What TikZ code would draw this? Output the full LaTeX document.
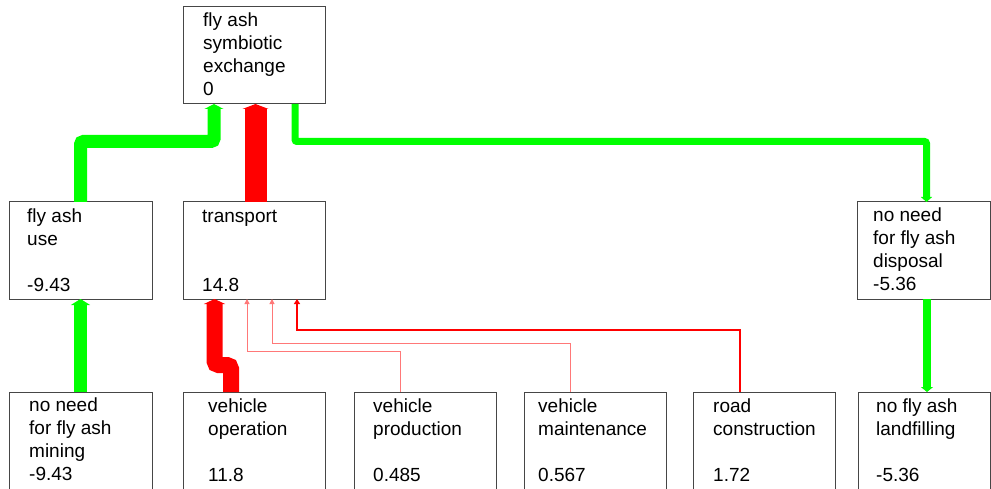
\documentclass[tikz,border=0pt]{standalone}
\usepackage{fontspec}
\setmainfont{Liberation Sans}
\usetikzlibrary{arrows.meta,calc}
\definecolor{fgreen}{RGB}{0,255,0}
\definecolor{fred}{RGB}{255,0,0}
\definecolor{fpink}{RGB}{255,120,120}
\definecolor{boxline}{RGB}{70,70,70}
\begin{document}
\begin{tikzpicture}[x=1pt,y=-1pt,
  box/.style={draw=boxline, line width=1pt, rectangle, inner sep=0pt, outer sep=0pt, minimum width=#1, minimum height=97pt},
  box/.default=142pt,
  lowbox/.style={box=#1, minimum height=103pt},
  lowbox/.default=142pt,
  txt/.style={anchor=base west, inner sep=0pt, font=\fontsize{19}{23}\selectfont},
  gflow/.style={draw=fgreen, line join=miter},
  rflow/.style={draw=fred, line join=miter},
  pflow/.style={draw=fpink, line width=1pt, -{Triangle[width=5pt,length=5pt]}}
]
\useasboundingbox (0,0) rectangle (991,489);
\fill[white] (0,0) rectangle (991,489);

% boxes
\node[box] (topbox) at (254,55.5) {};
\node[box=143pt] (use) at (80.5,250.5) {};
\node[box] (transport) at (254,250.5) {};
\node[box=133pt] (disposal) at (923.5,250.5) {};
\node[lowbox=143pt] (mining) at (80.5,443.5) {};
\node[lowbox] (operation) at (254,443.5) {};
\node[lowbox] (production) at (425,443.5) {};
\node[lowbox] (maintenance) at (595,443.5) {};
\node[lowbox] (road) at (764,443.5) {};
\node[lowbox=132pt] (landfill) at (924,443.5) {};

% texts
\node[txt] (t-top) at (203,27) {\begin{tabular}[t]{@{}l@{}}fly ash\\symbiotic\\exchange\\0\end{tabular}};
\node[txt] (t-use) at (27,223) {\begin{tabular}[t]{@{}l@{}}fly ash\\use\\ \\-9.43\end{tabular}};
\node[txt] (t-transport) at (202,223) {\begin{tabular}[t]{@{}l@{}}transport\\ \\ \\14.8\end{tabular}};
\node[txt] (t-disposal) at (873,222) {\begin{tabular}[t]{@{}l@{}}no need\\for fly ash\\disposal\\-5.36\end{tabular}};
\node[txt] (t-mining) at (29,411) {\begin{tabular}[t]{@{}l@{}}no need\\for fly ash\\mining\\-9.43\end{tabular}};
\node[txt] (t-operation) at (208,412) {\begin{tabular}[t]{@{}l@{}}vehicle\\operation\\ \\11.8\end{tabular}};
\node[txt] (t-production) at (373,412) {\begin{tabular}[t]{@{}l@{}}vehicle\\production\\ \\0.485\end{tabular}};
\node[txt] (t-maintenance) at (538,412) {\begin{tabular}[t]{@{}l@{}}vehicle\\maintenance\\ \\0.567\end{tabular}};
\node[txt] (t-road) at (713,412) {\begin{tabular}[t]{@{}l@{}}road\\construction\\ \\1.72\end{tabular}};
\node[txt] (t-landfill) at (876,412) {\begin{tabular}[t]{@{}l@{}}no fly ash\\landfilling\\ \\-5.36\end{tabular}};

% junction coordinates
\coordinate (j1) at (214,141.5);
\coordinate (j2) at (926.5,141.5);
\coordinate (j3) at (214.5,365);
\coordinate (j4) at (247,351);
\coordinate (j5) at (272,343);
\coordinate (j6) at (297,330);

% green flows
\draw[gflow, line width=13pt, rounded corners=3pt, -{Triangle[width=19pt,length=5pt]}]
  (use.north) |- (j1) -- ([xshift=31pt]topbox.south west);
\draw[gflow, line width=13pt, -{Triangle[width=19pt,length=6pt]}]
  (mining.north) -- (use.south);
\draw[gflow, line width=7pt, rounded corners=2pt, -{Triangle[width=11pt,length=5pt]}]
  ([xshift=112pt]topbox.south west) |- (j2) -- ([xshift=3pt]disposal.north);
\draw[gflow, line width=7.5pt, -{Triangle[width=12pt,length=5pt]}]
  ([xshift=3.5pt]disposal.south) -- ([xshift=3pt]landfill.north);

% red flows
\draw[rflow, line width=22pt, -{Triangle[width=26pt,length=5pt]}]
  ([xshift=1.5pt]transport.north) -- ([xshift=1.5pt]topbox.south);
\draw[rflow, line width=16pt, rounded corners=4pt, -{Triangle[width=21pt,length=5pt]}]
  ([xshift=-23pt]operation.north) |- (j3) -- ([xshift=-39.5pt]transport.south);
\draw[pflow] ([xshift=-25pt]production.north) |- (j4) -- ([xshift=-7pt]transport.south);
\draw[pflow] ([xshift=-25pt]maintenance.north) |- (j5) -- ([xshift=18pt]transport.south);
\draw[rflow, line width=2.5pt, -{Triangle[width=6pt,length=5pt]}]
  ([xshift=-24pt]road.north) |- (j6) -- ([xshift=43pt]transport.south);
\end{tikzpicture}
\end{document}
